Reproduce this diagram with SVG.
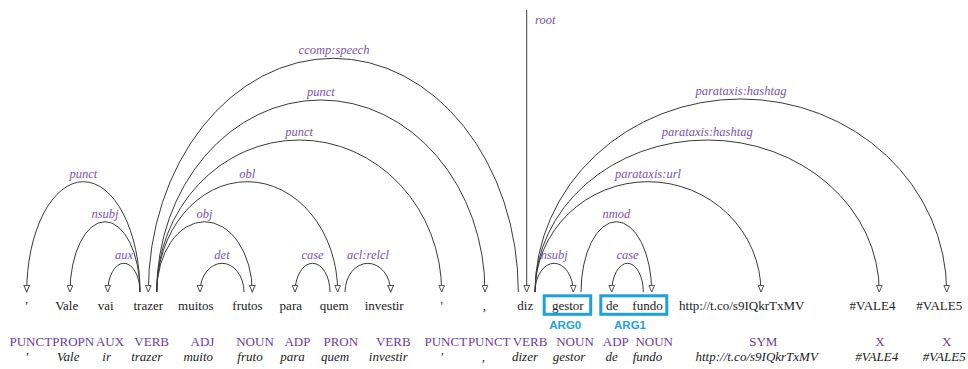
<svg xmlns="http://www.w3.org/2000/svg" width="968" height="369" viewBox="0 0 968 369">
  <defs>
    <marker id="arrow" markerUnits="userSpaceOnUse" markerWidth="10" markerHeight="10" viewBox="-8 -5 10 10" refX="0" refY="0" orient="auto">
      <path d="M -6.5 -2.8 L 0 0 L -6.5 2.8 Z" fill="#fff" stroke="#555" stroke-width="1"/>
    </marker>
    <style>
      .word { font-size: 13px; fill: #222; text-anchor: middle; }
      .pos { font-size: 13px; fill: #6b3d9e; text-anchor: middle; }
      .lemma { font-size: 13px; font-style: italic; fill: #222; text-anchor: middle; }
      .lbl { font-size: 12.5px; font-style: italic; fill: #7a52ad; text-anchor: middle; }
      .arc { fill: none; stroke: #3a3a3a; stroke-width: 1; marker-end: url(#arrow); }
      .box { fill: none; stroke: #1e9fe0; stroke-width: 3; }
      .arg { font-size: 11.5px; font-weight: bold; fill: #1e9fe0; text-anchor: middle; }
    </style>
  </defs>
  <rect width="968" height="369" fill="#fff"/>

  <!-- dependency arcs -->
  <g id="connectors">
    <path class="arc" d="M140,292 A56.65,110.3 0 0 0 26.7,292"/>
    <path class="arc" d="M140,292 A35,70.3 0 0 0 70,292"/>
    <path class="arc" d="M140,292 A16.15,28.7 0 0 0 107.7,292"/>
    <path class="arc" d="M518.3,292 A185,233.7 0 0 0 148.3,292"/>
    <path class="arc" d="M156.7,292 A164.15,192 0 0 1 485,292"/>
    <path class="arc" d="M156.7,292 A142.5,152 0 0 1 441.7,292"/>
    <path class="arc" d="M156.7,292 A90.5,110.3 0 0 1 337.7,292"/>
    <path class="arc" d="M156.7,292 A47.8,70.3 0 0 1 252.3,292"/>
    <path class="arc" d="M244,292 A22,28.7 0 0 0 200,292"/>
    <path class="arc" d="M330,292 A17.5,28.7 0 0 0 295,292"/>
    <path class="arc" d="M345,292 A22.85,28.7 0 0 1 390.7,292"/>
    <path class="arc" d="M526.7,10 L526.7,292" stroke-width="1.3"/>
    <path class="arc" d="M535,292 A19.15,28.7 0 0 1 573.3,292"/>
    <path class="arc" d="M535,292 A113,110.3 0 0 1 761,292"/>
    <path class="arc" d="M535,292 A172.15,152 0 0 1 879.3,292"/>
    <path class="arc" d="M535,292 A205.85,193 0 0 1 946.7,292"/>
    <path class="arc" d="M581,292 A35.35,70.3 0 0 1 651.7,292"/>
    <path class="arc" d="M643.3,292 A15.8,28.7 0 0 0 611.7,292"/>
  </g>

  <g font-family="'Liberation Serif', 'Times New Roman', Times, serif">
  <!-- arc labels -->
  <g id="labels">
    <text class="lbl" x="83.3" y="177.7">punct</text>
    <text class="lbl" x="105" y="217.7">nsubj</text>
    <text class="lbl" x="124" y="259.3">aux</text>
    <text class="lbl" x="334" y="54.3">ccomp:speech</text>
    <text class="lbl" x="320.8" y="96">punct</text>
    <text class="lbl" x="299.2" y="136">punct</text>
    <text class="lbl" x="247.2" y="177.7">obl</text>
    <text class="lbl" x="204.5" y="217.7">obj</text>
    <text class="lbl" x="222" y="259.3">det</text>
    <text class="lbl" x="312.5" y="259.3">case</text>
    <text class="lbl" x="368" y="259.3">acl:relcl</text>
    <text class="lbl" x="535" y="24" text-anchor="start" style="text-anchor:start">root</text>
    <text class="lbl" x="554.2" y="259.3">nsubj</text>
    <text class="lbl" x="648" y="177.7">parataxis:url</text>
    <text class="lbl" x="707.2" y="136">parataxis:hashtag</text>
    <text class="lbl" x="740.9" y="95">parataxis:hashtag</text>
    <text class="lbl" x="616.4" y="217.7">nmod</text>
    <text class="lbl" x="627.5" y="259.3">case</text>
  </g>

  <!-- tokens: form, part of speech, lemma -->
  <g id="t1"><text class="word" x="26.7" y="309.5">'</text><text class="pos" x="30.8" y="346">PUNCT</text><text class="lemma" x="26.7" y="361">'</text></g>
  <g id="t2"><text class="word" x="66.7" y="309.5">Vale</text><text class="pos" x="73.3" y="346">PROPN</text><text class="lemma" x="68.3" y="361">Vale</text></g>
  <g id="t3"><text class="word" x="105.8" y="309.5">vai</text><text class="pos" x="110" y="346">AUX</text><text class="lemma" x="106.7" y="361">ir</text></g>
  <g id="t4"><text class="word" x="148.3" y="309.5">trazer</text><text class="pos" x="151.7" y="346">VERB</text><text class="lemma" x="146.7" y="361">trazer</text></g>
  <g id="t5"><text class="word" x="195.8" y="309.5">muitos</text><text class="pos" x="202.5" y="346">ADJ</text><text class="lemma" x="198.3" y="361">muito</text></g>
  <g id="t6"><text class="word" x="247.5" y="309.5">frutos</text><text class="pos" x="255" y="346">NOUN</text><text class="lemma" x="250" y="361">fruto</text></g>
  <g id="t7"><text class="word" x="290.8" y="309.5">para</text><text class="pos" x="297.5" y="346">ADP</text><text class="lemma" x="292.5" y="361">para</text></g>
  <g id="t8"><text class="word" x="334.2" y="309.5">quem</text><text class="pos" x="340.8" y="346">PRON</text><text class="lemma" x="335" y="361">quem</text></g>
  <g id="t9"><text class="word" x="384.2" y="309.5">investir</text><text class="pos" x="393.3" y="346">VERB</text><text class="lemma" x="388.3" y="361">investir</text></g>
  <g id="t10"><text class="word" x="441.7" y="309.5">'</text><text class="pos" x="445.8" y="346">PUNCT</text><text class="lemma" x="441.7" y="361">'</text></g>
  <g id="t11"><text class="word" x="484.3" y="309.5">,</text><text class="pos" x="489.2" y="346">PUNCT</text><text class="lemma" x="483.3" y="361">,</text></g>
  <g id="t12"><text class="word" x="525.3" y="309.5">diz</text><text class="pos" x="530" y="346">VERB</text><text class="lemma" x="525" y="361">dizer</text></g>
  <g id="t13"><text class="word" x="567.8" y="309.5">gestor</text><text class="pos" x="575" y="346">NOUN</text><text class="lemma" x="569" y="361">gestor</text></g>
  <g id="t14"><text class="word" x="612.2" y="309.5">de</text><text class="pos" x="615.8" y="346">ADP</text><text class="lemma" x="611.7" y="361">de</text></g>
  <g id="t15"><text class="word" x="647.5" y="309.5">fundo</text><text class="pos" x="654.2" y="346">NOUN</text><text class="lemma" x="647.5" y="361">fundo</text></g>
  <g id="t16"><text class="word" x="741.7" y="309.5">http://t.co/s9IQkrTxMV</text><text class="pos" x="763.3" y="346">SYM</text><text class="lemma" x="756.7" y="361">http://t.co/s9IQkrTxMV</text></g>
  <g id="t17"><text class="word" x="872.5" y="309.5">#VALE4</text><text class="pos" x="880" y="346">X</text><text class="lemma" x="876.7" y="361">#VALE4</text></g>
  <g id="t18"><text class="word" x="939.2" y="309.5">#VALE5</text><text class="pos" x="946.7" y="346">X</text><text class="lemma" x="944.2" y="361">#VALE5</text></g>
  </g>

  <!-- argument boxes -->
  <g font-family="'Liberation Sans', Arial, sans-serif">
    <g id="arg0">
      <rect class="box" x="544.2" y="295.8" width="46.5" height="18.5"/>
      <text class="arg" x="565.3" y="328.5">ARG0</text>
    </g>
    <g id="arg1">
      <rect class="box" x="600.8" y="295.8" width="66" height="18.5"/>
      <text class="arg" x="630" y="328.5">ARG1</text>
    </g>
  </g>
</svg>
